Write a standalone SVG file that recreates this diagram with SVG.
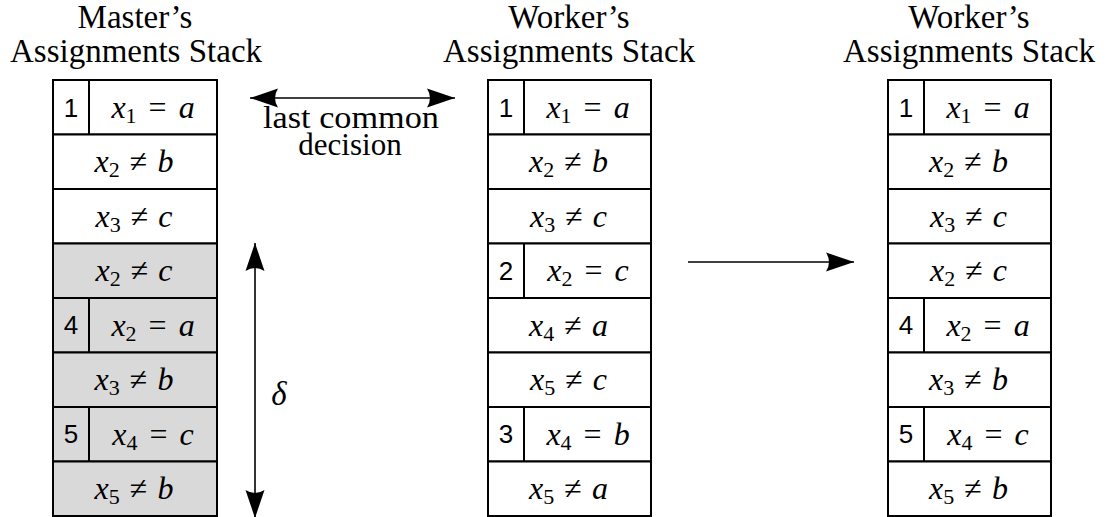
<svg xmlns="http://www.w3.org/2000/svg" width="1108" height="517" viewBox="0 0 1108 517">
<style>
.t{font-family:"Liberation Serif",serif;font-size:33px;text-anchor:middle;fill:#000}
.l{font-family:"Liberation Serif",serif;font-size:31px;text-anchor:middle;fill:#000}
.m{font-family:"Liberation Serif",serif;font-size:32px;text-anchor:middle;fill:#000}
.i{font-style:italic}
.s{font-size:22px}
.n{font-family:"Liberation Sans",sans-serif;font-size:26px;text-anchor:middle;fill:#000}
.c{fill:#fff;stroke:#000;stroke-width:2}
.g{fill:#d9d9d9;stroke:#000;stroke-width:2}
.d{stroke:#000;stroke-width:2}
.a{stroke:#000;stroke-width:1.6;fill:none;marker-end:url(#ah)}
.b{stroke:#000;stroke-width:1.6;fill:none;marker-start:url(#ah);marker-end:url(#ah)}
</style>
<defs>
<marker id="ah" markerUnits="userSpaceOnUse" viewBox="-30 -11 31 22" markerWidth="31" markerHeight="22" refX="0" refY="0" orient="auto-start-reverse">
<path d="M0,0 L-28,-9.5 Q-22,0 -28,9.5 Z" fill="#000"/>
</marker>
</defs>
<rect width="1108" height="517" fill="#fff"/>

<g id="master-stack">
<text class="t" x="135" y="28">Master’s</text>
<text class="t" x="136" y="62">Assignments Stack</text>
<rect class="c" x="53" y="80" width="164" height="54.5"/>
<rect class="c" x="53" y="134.5" width="164" height="54.5"/>
<rect class="c" x="53" y="189" width="164" height="54.5"/>
<rect class="g" x="53" y="243.5" width="164" height="54.5"/>
<rect class="g" x="53" y="298" width="164" height="54.5"/>
<rect class="g" x="53" y="352.5" width="164" height="54.5"/>
<rect class="g" x="53" y="407" width="164" height="54.5"/>
<rect class="g" x="53" y="461.5" width="164" height="54.5"/>
<line class="d" x1="89" y1="80" x2="89" y2="134.5"/>
<line class="d" x1="89" y1="298" x2="89" y2="352.5"/>
<line class="d" x1="89" y1="407" x2="89" y2="461.5"/>
<text class="n" x="71" y="117">1</text>
<text class="n" x="71" y="334">4</text>
<text class="n" x="71" y="443">5</text>
<text class="m" x="153" y="117.5"><tspan class="i">x</tspan><tspan class="s" dy="5">1</tspan><tspan dy="-5" dx="12">=</tspan><tspan class="i" dx="12">a</tspan></text>
<text class="m" x="134" y="172"><tspan class="i">x</tspan><tspan class="s" dy="5">2</tspan><tspan dy="-5" dx="10">≠</tspan><tspan class="i" dx="10">b</tspan></text>
<text class="m" x="134" y="226.5"><tspan class="i">x</tspan><tspan class="s" dy="5">3</tspan><tspan dy="-5" dx="10">≠</tspan><tspan class="i" dx="10">c</tspan></text>
<text class="m" x="134" y="281"><tspan class="i">x</tspan><tspan class="s" dy="5">2</tspan><tspan dy="-5" dx="10">≠</tspan><tspan class="i" dx="10">c</tspan></text>
<text class="m" x="153" y="335.5"><tspan class="i">x</tspan><tspan class="s" dy="5">2</tspan><tspan dy="-5" dx="12">=</tspan><tspan class="i" dx="12">a</tspan></text>
<text class="m" x="134" y="390"><tspan class="i">x</tspan><tspan class="s" dy="5">3</tspan><tspan dy="-5" dx="10">≠</tspan><tspan class="i" dx="10">b</tspan></text>
<text class="m" x="153" y="444.5"><tspan class="i">x</tspan><tspan class="s" dy="5">4</tspan><tspan dy="-5" dx="12">=</tspan><tspan class="i" dx="12">c</tspan></text>
<text class="m" x="134" y="499"><tspan class="i">x</tspan><tspan class="s" dy="5">5</tspan><tspan dy="-5" dx="10">≠</tspan><tspan class="i" dx="10">b</tspan></text>
</g>

<g id="worker-stack">
<text class="t" x="569" y="28">Worker’s</text>
<text class="t" x="569" y="62">Assignments Stack</text>
<rect class="c" x="488" y="80" width="163" height="54.5"/>
<rect class="c" x="488" y="134.5" width="163" height="54.5"/>
<rect class="c" x="488" y="189" width="163" height="54.5"/>
<rect class="c" x="488" y="243.5" width="163" height="54.5"/>
<rect class="c" x="488" y="298" width="163" height="54.5"/>
<rect class="c" x="488" y="352.5" width="163" height="54.5"/>
<rect class="c" x="488" y="407" width="163" height="54.5"/>
<rect class="c" x="488" y="461.5" width="163" height="54.5"/>
<line class="d" x1="524" y1="80" x2="524" y2="134.5"/>
<line class="d" x1="524" y1="243.5" x2="524" y2="298"/>
<line class="d" x1="524" y1="407" x2="524" y2="461.5"/>
<text class="n" x="506" y="117">1</text>
<text class="n" x="506" y="280">2</text>
<text class="n" x="506" y="443">3</text>
<text class="m" x="588" y="117.5"><tspan class="i">x</tspan><tspan class="s" dy="5">1</tspan><tspan dy="-5" dx="12">=</tspan><tspan class="i" dx="12">a</tspan></text>
<text class="m" x="568.5" y="172"><tspan class="i">x</tspan><tspan class="s" dy="5">2</tspan><tspan dy="-5" dx="10">≠</tspan><tspan class="i" dx="10">b</tspan></text>
<text class="m" x="568.5" y="226.5"><tspan class="i">x</tspan><tspan class="s" dy="5">3</tspan><tspan dy="-5" dx="10">≠</tspan><tspan class="i" dx="10">c</tspan></text>
<text class="m" x="588" y="281"><tspan class="i">x</tspan><tspan class="s" dy="5">2</tspan><tspan dy="-5" dx="12">=</tspan><tspan class="i" dx="12">c</tspan></text>
<text class="m" x="568.5" y="335.5"><tspan class="i">x</tspan><tspan class="s" dy="5">4</tspan><tspan dy="-5" dx="10">≠</tspan><tspan class="i" dx="10">a</tspan></text>
<text class="m" x="568.5" y="390"><tspan class="i">x</tspan><tspan class="s" dy="5">5</tspan><tspan dy="-5" dx="10">≠</tspan><tspan class="i" dx="10">c</tspan></text>
<text class="m" x="588" y="444.5"><tspan class="i">x</tspan><tspan class="s" dy="5">4</tspan><tspan dy="-5" dx="12">=</tspan><tspan class="i" dx="12">b</tspan></text>
<text class="m" x="568.5" y="499"><tspan class="i">x</tspan><tspan class="s" dy="5">5</tspan><tspan dy="-5" dx="10">≠</tspan><tspan class="i" dx="10">a</tspan></text>
</g>

<g id="worker-stack-updated">
<text class="t" x="969" y="28">Worker’s</text>
<text class="t" x="969" y="62">Assignments Stack</text>
<rect class="c" x="888" y="80" width="163" height="54.5"/>
<rect class="c" x="888" y="134.5" width="163" height="54.5"/>
<rect class="c" x="888" y="189" width="163" height="54.5"/>
<rect class="c" x="888" y="243.5" width="163" height="54.5"/>
<rect class="c" x="888" y="298" width="163" height="54.5"/>
<rect class="c" x="888" y="352.5" width="163" height="54.5"/>
<rect class="c" x="888" y="407" width="163" height="54.5"/>
<rect class="c" x="888" y="461.5" width="163" height="54.5"/>
<line class="d" x1="924" y1="80" x2="924" y2="134.5"/>
<line class="d" x1="924" y1="298" x2="924" y2="352.5"/>
<line class="d" x1="924" y1="407" x2="924" y2="461.5"/>
<text class="n" x="906" y="117">1</text>
<text class="n" x="906" y="334">4</text>
<text class="n" x="906" y="443">5</text>
<text class="m" x="988" y="117.5"><tspan class="i">x</tspan><tspan class="s" dy="5">1</tspan><tspan dy="-5" dx="12">=</tspan><tspan class="i" dx="12">a</tspan></text>
<text class="m" x="968.5" y="172"><tspan class="i">x</tspan><tspan class="s" dy="5">2</tspan><tspan dy="-5" dx="10">≠</tspan><tspan class="i" dx="10">b</tspan></text>
<text class="m" x="968.5" y="226.5"><tspan class="i">x</tspan><tspan class="s" dy="5">3</tspan><tspan dy="-5" dx="10">≠</tspan><tspan class="i" dx="10">c</tspan></text>
<text class="m" x="968.5" y="281"><tspan class="i">x</tspan><tspan class="s" dy="5">2</tspan><tspan dy="-5" dx="10">≠</tspan><tspan class="i" dx="10">c</tspan></text>
<text class="m" x="988" y="335.5"><tspan class="i">x</tspan><tspan class="s" dy="5">2</tspan><tspan dy="-5" dx="12">=</tspan><tspan class="i" dx="12">a</tspan></text>
<text class="m" x="968.5" y="390"><tspan class="i">x</tspan><tspan class="s" dy="5">3</tspan><tspan dy="-5" dx="10">≠</tspan><tspan class="i" dx="10">b</tspan></text>
<text class="m" x="988" y="444.5"><tspan class="i">x</tspan><tspan class="s" dy="5">4</tspan><tspan dy="-5" dx="12">=</tspan><tspan class="i" dx="12">c</tspan></text>
<text class="m" x="968.5" y="499"><tspan class="i">x</tspan><tspan class="s" dy="5">5</tspan><tspan dy="-5" dx="10">≠</tspan><tspan class="i" dx="10">b</tspan></text>
</g>

<g id="connectors">
<line class="b" x1="250" y1="98" x2="455" y2="98"/>
<text class="l" x="351" y="128" textLength="176" lengthAdjust="spacingAndGlyphs">last common</text>
<text class="l" x="350" y="155">decision</text>
<line class="b" x1="255" y1="243" x2="255" y2="518"/>
<text class="t i" x="279" y="405">δ</text>
<line class="a" x1="688" y1="262" x2="854" y2="262"/>
</g>
</svg>
